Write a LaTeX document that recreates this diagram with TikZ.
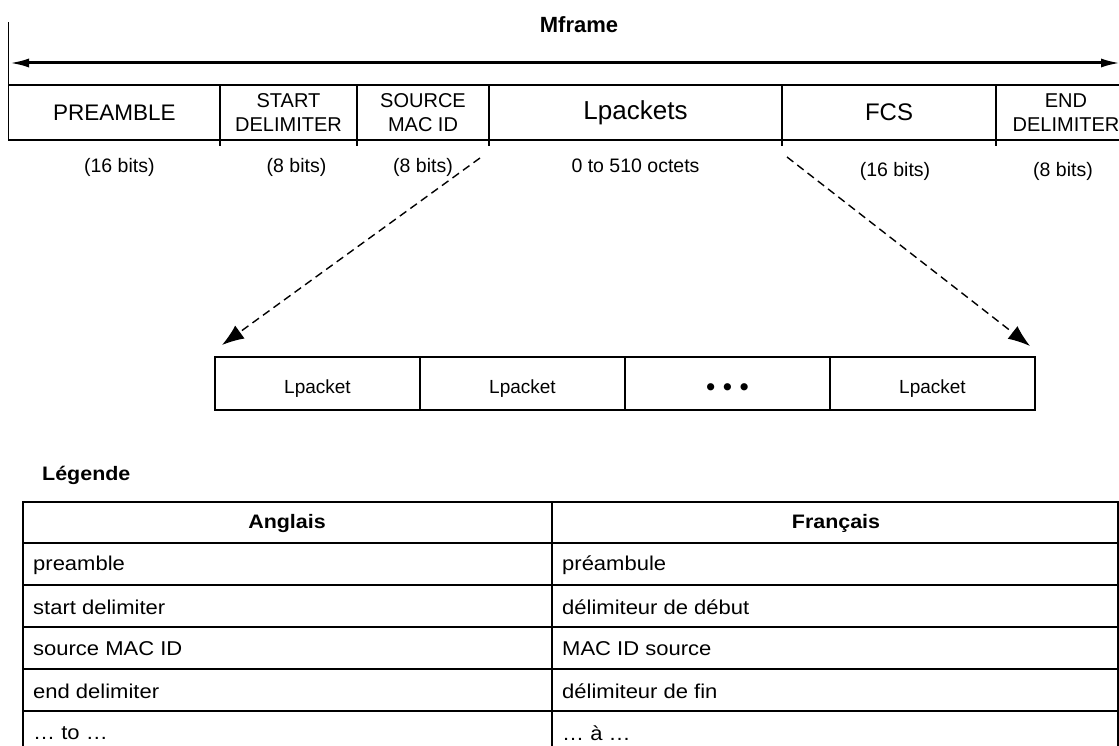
\documentclass[tikz,border=0pt]{standalone}
\usepackage{fontspec}
\setmainfont{Liberation Sans}
\newfontfamily\legfont[FakeStretch=1.1]{Liberation Sans}
\usetikzlibrary{positioning,arrows.meta}

\begin{document}
\begin{tikzpicture}[x=1pt, y=-1pt,
    field/.style={draw, line width=1.3pt, minimum height=55pt, minimum width=#1, inner sep=0pt, outer sep=0pt, align=center, font=\fontsize{20}{24}\selectfont},
    lpk/.style={draw, line width=1.6pt, minimum height=53pt, minimum width=205pt, inner sep=0pt, outer sep=0pt, text height=23pt, text depth=4pt, font=\fontsize{19}{22}\selectfont},
    bits/.style={font=\fontsize{19.5}{22}\selectfont},
    cell/.style={anchor=west, inner sep=0pt, font=\legfont\fontsize{20}{22}\selectfont},
    head/.style={inner sep=0pt, font=\legfont\bfseries\fontsize{19.5}{22}\selectfont},
    span/.style={{Latex[length=20pt,width=9pt]}-{Latex[length=20pt,width=9pt]}, line width=3pt},
    zoomarr/.style={-{Latex[length=22pt,width=16pt]}, dash pattern=on 8pt off 5pt, line width=1.4pt},
    tbl/.style={line width=2.4pt}]
  \useasboundingbox (0,0) rectangle (1119,746);
  \fill[white] (0,0) rectangle (1119,746);
  % frame title and span arrow
  \node[font=\bfseries\fontsize{22}{24}\selectfont] (mf) at (579,25) {Mframe};
  \coordinate (sl) at (9,63);
  \coordinate (sr) at (1121,63);
  \draw[span] (sl) -- (sr);
  % frame fields
  \node[field=211.4pt, anchor=west, font=\fontsize{22.5}{24}\selectfont] (pre) at (8.6,112.5) {PREAMBLE};
  \node[field=137pt, right=0pt of pre] (sd) {START\\DELIMITER};
  \node[field=132pt, right=0pt of sd] (src) {SOURCE\\MAC ID};
  \node[field=293pt, right=0pt of src, font=\fontsize{26}{28}\selectfont] (lps) {\raisebox{-3pt}{Lpackets}};
  \node[field=214pt, right=0pt of lps, font=\fontsize{24}{26}\selectfont] (fcs) {FCS};
  \node[field=140pt, right=0pt of fcs] (ed) {END\\DELIMITER};
  \draw[line width=1.3pt] (pre.south west) -- (8.6,22);
  \foreach \f in {pre,sd,src,lps,fcs}
    \draw[line width=1.6pt] (\f.north east) -- ([yshift=-6pt]\f.south east);
  % sizes
  \node[bits, below=15pt of pre, xshift=5pt] (bpre) {(16 bits)};
  \node[bits, below=15pt of sd, xshift=8pt] (bsd) {(8 bits)};
  \node[bits, below=15pt of src] (bsrc) {(8 bits)};
  \node[bits, below=15pt of lps] (blps) {0 to 510 octets};
  \node[bits, below=19pt of fcs, xshift=6pt] (bfcs) {(16 bits)};
  \node[bits, below=19pt of ed, xshift=-3pt] (bed) {(8 bits)};
  % lpackets
  \node[lpk] (lp1) at (317.5,383.5) {Lpacket};
  \node[lpk, right=0pt of lp1] (lp2) {Lpacket};
  \node[lpk, right=0pt of lp2, font=\fontsize{25}{26}\selectfont, text height=28pt] (lp3) {\textbf{•\hspace{8pt}•\hspace{8pt}•}};
  \node[lpk, right=0pt of lp3] (lp4) {Lpacket};
  \draw[zoomarr] ([xshift=-9pt, yshift=-18pt]lps.south west) -- ([xshift=7pt, yshift=12pt]lp1.north west);
  \draw[zoomarr] ([xshift=5pt, yshift=-17pt]lps.south east) -- ([xshift=-5pt, yshift=11pt]lp4.north east);
  % legend table
  \node[head, anchor=west] (leg) at (42,475) {Légende};
  \draw[tbl] (23,502) rectangle (1118,780);
  \draw[tbl] (552,502) -- (552,780);
  \foreach \y in {543,585,627,669,711}
    \draw[tbl] (23,\y) -- (1118,\y);
  \node[head] (hen) at (287,523) {Anglais};
  \node[head] (hfr) at (836,523) {Français};
  \foreach \en/\fr [count=\i] in {preamble/préambule, start delimiter/délimiteur de début, source MAC ID/MAC ID source, end delimiter/délimiteur de fin, … to …/… à …}{
    \node[cell] (en\i) at (33,523+42*\i) {\en};
    \node[cell] (fr\i) at (562,523+42*\i) {\fr};
  }
\end{tikzpicture}
\end{document}
